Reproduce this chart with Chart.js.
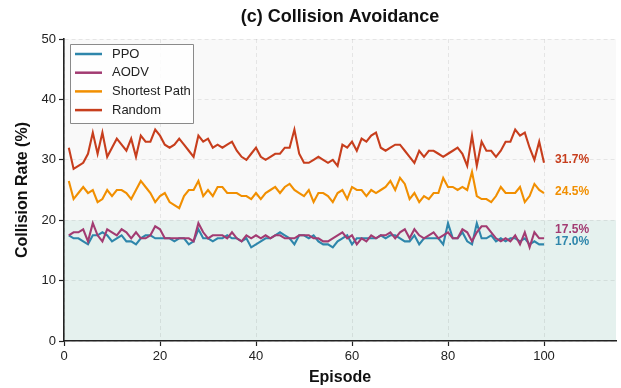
<!DOCTYPE html>
<html>
<head>
<meta charset="utf-8">
<script src="https://cdn.jsdelivr.net/npm/chart.js@4/dist/chart.umd.min.js"></script>
<style>
  html, body { margin: 0; padding: 0; background: #fff; }
  #wrap { width: 621px; height: 388px; }
</style>
</head>
<body>
<div id="wrap"><canvas id="chart" width="621" height="388"></canvas></div>
<script>
// ---------- DATA ----------
const episodes = Array.from({ length: 100 }, (_, i) => i + 1);

const seriesNames = ["PPO", "AODV", "Shortest Path", "Random"];
const seriesColors = ["#2E86AB", "#A23B72", "#F18F01", "#C73E1D"];

const ppo = [
  17.5, 17, 17, 16.5, 16, 17.5, 17.5, 18, 17.5, 16.5,
  17, 17.5, 16.5, 16.5, 16, 17, 17.5, 17.5, 17, 17,
  17, 17, 16.5, 17, 17, 16, 16.5, 18.5, 17, 17,
  16.5, 17, 17, 17.5, 17, 17, 16.5, 17, 15.5, 16,
  16.5, 17, 17, 17.5, 18, 17.5, 17, 16, 17.5, 17.5,
  17, 17.5, 16.5, 16, 16, 15.5, 16.5, 17, 17.5, 16,
  17, 17, 17, 17, 17, 17.5, 17, 17.5, 17.5, 17,
  16.5, 16.5, 17.5, 16, 17, 17, 17, 17, 16, 19.5,
  17, 17, 18, 16.5, 16, 19.5, 17, 17, 17.5, 16.5,
  17, 16.5, 17, 17, 16.5, 17, 16, 16.5, 16, 16
];
const aodv = [
  17.5, 18, 18, 18.5, 16.5, 19.5, 17.5, 16.5, 18.5, 18,
  17.5, 18.5, 18, 17, 18, 17, 17, 17.5, 19, 18.5,
  17, 17, 17, 17, 17, 17, 16.5, 19.5, 18, 17,
  17.5, 17.5, 17.5, 17, 18, 17, 16.5, 17.5, 17, 17.5,
  17, 17.5, 17, 17.5, 17.5, 17, 17, 17, 17.5, 17.5,
  17.5, 17, 17, 16.5, 16.5, 17, 17.5, 18, 17, 17.5,
  16, 17, 16.5, 17.5, 17, 17.5, 17.5, 18, 17, 18,
  18.5, 17, 18.5, 17.5, 17, 17.5, 18, 17, 17.5, 18,
  17, 17, 18.5, 18, 16.5, 18, 19, 19, 18, 17,
  16.5, 17, 16.5, 17.5, 16, 18, 15.5, 18, 17, 17
];
const shortestPath = [
  26.5, 23.5, 24.5, 25.5, 24.5, 25, 23, 23.5, 25, 24,
  25, 25, 24.5, 23.5, 25, 26.5, 25.5, 24.5, 23, 24,
  24.5, 23, 22.5, 22, 24, 25, 25, 26.5, 24, 25,
  24, 25.5, 25.5, 24.5, 24.5, 24.5, 24, 24, 23.5, 24.5,
  23.5, 24.5, 25, 25.5, 24.5, 25.5, 26, 25, 24.5, 24,
  25, 23, 24.5, 24.5, 24, 23, 24.5, 25, 23.5, 25.5,
  25, 25, 24, 25, 24.5, 25, 25.5, 26.5, 25, 27,
  26, 23.5, 24.5, 23, 24, 23.5, 24.5, 24.5, 27, 25.5,
  25.5, 25, 25.5, 25, 28, 24, 23.5, 23.5, 23, 24,
  25.5, 24.5, 24.5, 24.5, 25.5, 23, 24, 26, 25, 24.5
];
const random = [
  32, 28.5, 29, 29.5, 31, 34.5, 31, 34.5, 30.5, 32,
  33.5, 32.5, 31.5, 33.5, 30.5, 34, 33, 33, 35, 34,
  32.5, 32, 32.5, 33.5, 32.5, 31.5, 30.5, 34, 33, 33.5,
  32, 32.5, 32, 32.5, 33, 31.5, 30.5, 30, 31, 32,
  30.5, 30, 30.5, 31, 31, 32, 32, 35, 31, 29.5,
  29.5, 30, 30.5, 30, 29.5, 30, 29, 32.5, 32, 33,
  31.5, 33.5, 33, 34, 34.5, 32, 31.5, 32, 32.5, 32.5,
  31.5, 30.5, 29.5, 31.5, 30.5, 31.5, 31.5, 31, 30.5, 31,
  31.5, 32, 31, 29, 34, 29, 33, 31.5, 31.5, 30.5,
  31.5, 33, 33, 35, 34, 34.5, 32, 30, 33, 29.5
];

const seriesValues = [ppo, aodv, shortestPath, random];
const endLabels = ["17.0%", "17.5%", "24.5%", "31.7%"];

const xTicks = [0, 20, 40, 60, 80, 100];
const yTicks = [0, 10, 20, 30, 40, 50];

const chartTitle = "(c) Collision Avoidance";
const FONT = "'Liberation Sans', Arial, sans-serif";

// ---------- PLUGINS ----------
// shaded bands, painted before the grid so the dashed lines stay visible
const bandPlugin = {
  id: "bands",
  beforeDraw(chart) {
    const { ctx, chartArea, scales } = chart;
    if (!chartArea) return;
    const y20 = scales.y.getPixelForValue(20);
    ctx.save();
    ctx.fillStyle = "#f9f9f9";
    ctx.fillRect(chartArea.left, chartArea.top, chartArea.right - chartArea.left, y20 - chartArea.top);
    ctx.fillStyle = "#e5f1ee";
    ctx.fillRect(chartArea.left, y20, chartArea.right - chartArea.left, chartArea.bottom - y20);
    ctx.restore();
  }
};

// title centred over the plot area (not the whole canvas)
const titlePlugin = {
  id: "plotTitle",
  afterDraw(chart) {
    const { ctx, chartArea } = chart;
    ctx.save();
    ctx.font = "bold 18px " + FONT;
    ctx.fillStyle = "#111";
    ctx.textAlign = "center";
    ctx.textBaseline = "middle";
    ctx.fillText(chartTitle, (chartArea.left + chartArea.right) / 2, 17);
    ctx.restore();
  }
};

const endLabelPlugin = {
  id: "endLabels",
  afterDatasetsDraw(chart) {
    const { ctx, scales } = chart;
    // where each label sits (value units), nudged apart so they do not overlap
    const labelAt = [16.4, 18.5, 24.8, 30.0];
    ctx.save();
    ctx.font = "bold 12px " + FONT;
    ctx.textAlign = "left";
    ctx.textBaseline = "middle";
    endLabels.forEach((txt, i) => {
      ctx.fillStyle = seriesColors[i];
      ctx.fillText(txt, scales.x.getPixelForValue(102.3), scales.y.getPixelForValue(labelAt[i]));
    });
    ctx.restore();
  }
};

const legendPlugin = {
  id: "boxLegend",
  afterDatasetsDraw(chart) {
    const { ctx, chartArea } = chart;
    const x0 = chartArea.left + 6, y0 = chartArea.top + 5;
    const w = 123, h = 79;
    ctx.save();
    ctx.fillStyle = "rgba(255,255,255,0.85)";
    ctx.strokeStyle = "#8a8a8a";
    ctx.lineWidth = 1;
    ctx.beginPath();
    ctx.rect(x0 + 0.5, y0 + 0.5, w, h);
    ctx.fill();
    ctx.stroke();
    ctx.font = "13px " + FONT;
    ctx.textBaseline = "middle";
    ctx.textAlign = "left";
    seriesNames.forEach((name, i) => {
      const cy = y0 + 10 + i * 18.7;
      ctx.strokeStyle = seriesColors[i];
      ctx.lineWidth = 2.5;
      ctx.beginPath();
      ctx.moveTo(x0 + 5, cy);
      ctx.lineTo(x0 + 32, cy);
      ctx.stroke();
      ctx.fillStyle = "#222";
      ctx.fillText(name, x0 + 42, cy);
    });
    ctx.restore();
  }
};

// ---------- CHART ----------
const ctx = document.getElementById("chart").getContext("2d");

new Chart(ctx, {
  type: "line",
  data: {
    datasets: seriesNames.map((name, i) => ({
      label: name,
      data: episodes.map((ep, k) => ({ x: ep, y: seriesValues[i][k] })),
      borderColor: seriesColors[i],
      borderWidth: 2.1,
      pointRadius: 0,
      tension: 0,
      fill: false,
      order: 4 - i
    }))
  },
  options: {
    responsive: false,
    animation: false,
    layout: { padding: { left: 0, right: 5, top: 39, bottom: 0 } },
    plugins: {
      legend: { display: false },
      tooltip: { enabled: false },
      title: { display: false }
    },
    scales: {
      x: {
        type: "linear",
        min: 0,
        max: 115,
        afterFit(scale) { scale.height = 47; },
        afterBuildTicks(scale) { scale.ticks = xTicks.map(v => ({ value: v })); },
        ticks: {
          color: "#222",
          padding: 3,
          maxRotation: 0,
          font: { family: FONT, size: 13 }
        },
        grid: {
          color: "rgba(0,0,0,0.08)",
          tickColor: "#222",
          tickLength: 5,
          tickWidth: 1.2
        },
        border: { display: true, color: "#222", width: 1.6, dash: [4, 3] },
        title: {
          display: true,
          text: "Episode",
          color: "#111",
          font: { family: FONT, size: 16, weight: "bold" },
          padding: { top: 0, bottom: 1 }
        }
      },
      y: {
        min: 0,
        max: 50,
        afterFit(scale) { scale.width = 64; },
        afterBuildTicks(scale) { scale.ticks = yTicks.map(v => ({ value: v })); },
        ticks: {
          color: "#222",
          padding: 3,
          font: { family: FONT, size: 13 }
        },
        grid: {
          color: "rgba(0,0,0,0.08)",
          tickColor: "#222",
          tickLength: 5,
          tickWidth: 1.2
        },
        border: { display: true, color: "#222", width: 1.6, dash: [4, 3] },
        title: {
          display: true,
          text: "Collision Rate (%)",
          color: "#111",
          font: { family: FONT, size: 16, weight: "bold" },
          padding: { top: 13, bottom: 0 }
        }
      }
    }
  },
  plugins: [bandPlugin, endLabelPlugin, legendPlugin, titlePlugin]
});
</script>
</body>
</html>
